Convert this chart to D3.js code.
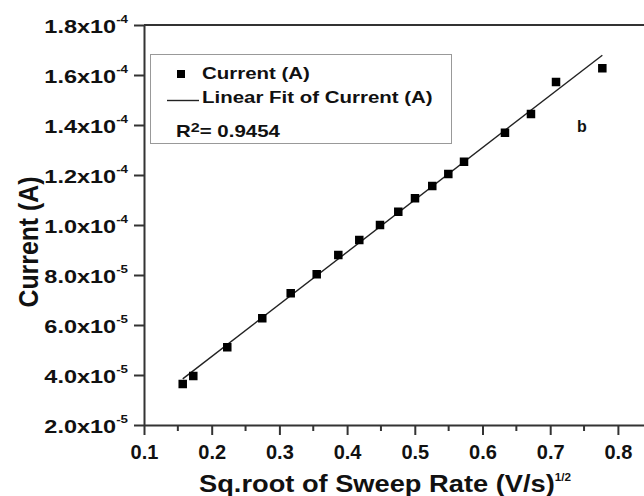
<!DOCTYPE html>
<html>
<head>
<meta charset="utf-8">
<script src="https://cdn.jsdelivr.net/npm/d3@7"></script>
<style>
  body { margin: 0; background: #fff; }
  text { font-family: "Liberation Sans", Arial, sans-serif; font-weight: bold; fill: #111; }
</style>
</head>
<body>
<div id="chart"></div>
<script>
// sqrt of sweep rate (V/s)^1/2 and peak current (A)
var sqrtRate = [0.1572, 0.1728, 0.2230, 0.2747, 0.3167, 0.3551, 0.3870, 0.4180, 0.4486,
                0.4756, 0.5003, 0.5258, 0.5495, 0.5727, 0.6332, 0.6716, 0.7086, 0.7770]
var current = [3.64e-5, 3.96e-5, 5.11e-5, 6.27e-5, 7.27e-5, 8.03e-5, 8.80e-5, 9.40e-5, 1.000e-4,
               1.053e-4, 1.107e-4, 1.156e-4, 1.204e-4, 1.253e-4, 1.369e-4, 1.444e-4, 1.572e-4, 1.627e-4]

// linear fit as drawn
var fitSlope = 2.089e-4
var fitIntercept = 5.6e-6
var rSquared = "0.9454"

var xTicks = [0.1, 0.2, 0.3, 0.4, 0.5, 0.6, 0.7, 0.8]
var xMinorTicks = [0.15, 0.25, 0.35, 0.45, 0.55, 0.65, 0.75, 0.85]
var yTicks = [2e-5, 4e-5, 6e-5, 8e-5, 1e-4, 1.2e-4, 1.4e-4, 1.6e-4, 1.8e-4]

var width = 644, height = 496

var x = d3.scaleLinear().domain([0.1, 0.9]).range([144, 144 + 8 * 67.7])
var y = d3.scaleLinear().domain([2e-5, 1.8e-4]).range([425, 25])

var svg = d3.select("#chart").append("svg")
  .attr("width", width)
  .attr("height", height)

svg.append("rect").attr("width", width).attr("height", height).attr("fill", "#fff")

// frame: top line (right side is cut off by the image)
svg.append("line")
  .attr("x1", x(0.1)).attr("x2", x(0.9))
  .attr("y1", y(1.8e-4)).attr("y2", y(1.8e-4))
  .attr("stroke", "#333").attr("stroke-width", 2)

// x axis
var xAxis = svg.append("g")
  .attr("transform", "translate(0," + y(2e-5) + ")")
  .call(d3.axisBottom(x).tickValues(xTicks).tickSize(10).tickSizeOuter(0).tickFormat(d3.format(".1f")))

xAxis.select(".domain").attr("stroke", "#333").attr("stroke-width", 2)
xAxis.selectAll(".tick line").attr("stroke", "#333").attr("stroke-width", 2)
xAxis.selectAll(".tick text")
  .attr("y", 34).attr("dy", null)
  .style("font-size", "20px")
  .style("font-family", "'Liberation Sans', Arial, sans-serif")
  .style("font-weight", "bold")
  .attr("fill", "#111")

xAxis.selectAll(".minor")
  .data(xMinorTicks)
  .enter().append("line")
  .attr("class", "minor")
  .attr("x1", d => x(d)).attr("x2", d => x(d))
  .attr("y1", 0).attr("y2", 6)
  .attr("stroke", "#333").attr("stroke-width", 2)

// y axis
var yAxis = svg.append("g")
  .attr("transform", "translate(" + x(0.1) + ",0)")
  .call(d3.axisLeft(y).tickValues(yTicks).tickSize(10).tickSizeOuter(0).tickFormat(""))

yAxis.select(".domain").attr("stroke", "#333").attr("stroke-width", 2)
yAxis.selectAll(".tick line").attr("stroke", "#333").attr("stroke-width", 2)

function mantissa(v) {
  var e = v >= 1e-4 ? -4 : -5
  return { m: (v / Math.pow(10, e)).toFixed(1), e: e }
}

var yLabels = svg.append("g").selectAll("text")
  .data(yTicks)
  .enter().append("text")
  .attr("text-anchor", "end")
  .attr("transform", d => "translate(128," + (y(d) + 8) + ") scale(1.27,1)")
  .style("font-size", "18.5px")

yLabels.append("tspan").text(d => mantissa(d).m + "x10")
yLabels.append("tspan").attr("dy", -10).style("font-size", "10.5px").text(d => "-" + (-mantissa(d).e))

// axis titles
var xTitle = svg.append("text")
  .attr("transform", "translate(199,492) scale(1.17,1)")
  .style("font-size", "23.3px")
xTitle.append("tspan").text("Sq.root of Sweep Rate (V/s)")
xTitle.append("tspan").attr("dy", -11).style("font-size", "10px").text("1/2")

svg.append("text")
  .attr("transform", "translate(38,242) scale(1.12,1) rotate(-90)")
  .attr("text-anchor", "middle")
  .style("font-size", "24.8px")
  .text("Current (A)")

// fit line
var fitX = d3.extent(sqrtRate)
svg.append("line")
  .attr("x1", x(fitX[0])).attr("y1", y(fitSlope * fitX[0] + fitIntercept))
  .attr("x2", x(fitX[1])).attr("y2", y(fitSlope * fitX[1] + fitIntercept))
  .attr("stroke", "#222").attr("stroke-width", 1.4)

// data points
var sq = 8.5
svg.append("g").selectAll("rect")
  .data(sqrtRate)
  .enter().append("rect")
  .attr("x", (d) => x(d) - sq / 2)
  .attr("y", (d, i) => y(current[i]) - sq / 2)
  .attr("width", sq).attr("height", sq)
  .attr("fill", "#000")

// legend
var legend = svg.append("g")
legend.append("rect")
  .attr("x", 150.5).attr("y", 54.5)
  .attr("width", 301).attr("height", 89)
  .attr("fill", "#fff").attr("stroke", "#999").attr("stroke-width", 1)

legend.append("rect")
  .attr("x", 181 - 4).attr("y", 74 - 4).attr("width", 8).attr("height", 8).attr("fill", "#000")
legend.append("text")
  .attr("transform", "translate(202,78.5) scale(1.24,1)")
  .style("font-size", "16.5px")
  .text("Current (A)")

legend.append("line")
  .attr("x1", 167).attr("x2", 199).attr("y1", 100.5).attr("y2", 100.5)
  .attr("stroke", "#222").attr("stroke-width", 1.4)
legend.append("text")
  .attr("transform", "translate(202,102.5) scale(1.24,1)")
  .style("font-size", "16.5px")
  .text("Linear Fit of Current (A)")

var r2 = legend.append("text")
  .attr("transform", "translate(176,136.5) scale(1.24,1)")
  .style("font-size", "16.5px")
r2.append("tspan").text("R")
r2.append("tspan").attr("dy", -5).style("font-size", "13px").text("2")
r2.append("tspan").attr("dy", 5).text("= " + rSquared)

svg.append("text")
  .attr("x", 582).attr("y", 131.5)
  .attr("text-anchor", "middle")
  .style("font-size", "16px")
  .text("b")
</script>
</body>
</html>
